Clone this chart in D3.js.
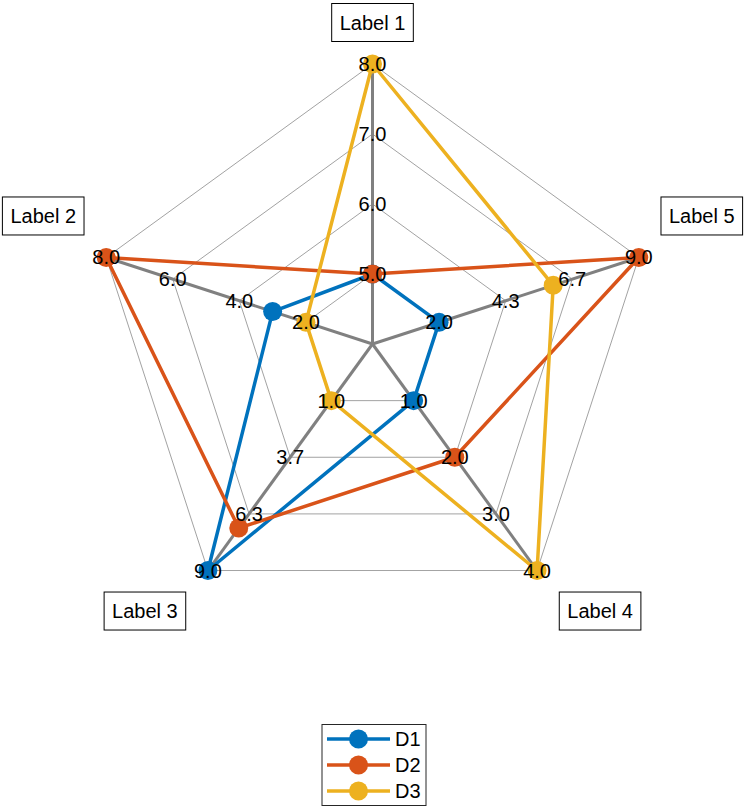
<!DOCTYPE html>
<html>
<head>
<meta charset="utf-8">
<script src="https://cdnjs.cloudflare.com/ajax/libs/d3/7.8.5/d3.min.js"></script>
<style>
  html, body { margin: 0; padding: 0; background: #fff; }
  svg { display: block; font-family: "Liberation Sans", Arial, Helvetica, sans-serif; }
</style>
</head>
<body>
<div id="chart"></div>
<script>
// axes (spokes), going counter-clockwise from the top
const axisLabels = ['Label 1', 'Label 2', 'Label 3', 'Label 4', 'Label 5'];
const axisMin = [5, 2, 1, 1, 2];
const axisMax = [8, 8, 9, 4, 9];

const seriesNames = ['D1', 'D2', 'D3'];
const seriesValues = [
  [5, 3, 9, 1, 2],
  [5, 8, 7, 2, 9],
  [8, 2, 1, 4, 6]
];
const colors = ['#0072BD', '#D95319', '#EDB120'];

const width = 746, height = 809;
const cx = 372.5, cy = 344, R = 280;
const nRings = 4;
const fontSize = 20;

const svg = d3.select('#chart').append('svg')
  .attr('width', width)
  .attr('height', height);

const angle = d3.scaleLinear()
  .domain([0, axisLabels.length])
  .range([Math.PI / 2, Math.PI / 2 + 2 * Math.PI]);

// one radial scale per axis; the min value sits on the first ring
const rScales = axisLabels.map((l, i) => d3.scaleLinear()
  .domain([axisMin[i], axisMax[i]])
  .range([R / nRings, R]));

const ringR = d3.scaleLinear().domain([0, nRings]).range([0, R]);

const pt = (i, r) => [cx + r * Math.cos(angle(i)), cy - r * Math.sin(angle(i))];

// rings
d3.range(1, nRings + 1).forEach(k => {
  const pts = axisLabels.map((l, i) => pt(i, ringR(k)));
  svg.append('path')
    .attr('d', d3.line()(pts) + 'Z')
    .attr('fill', 'none')
    .attr('stroke', '#8a8a8a')
    .attr('stroke-width', 0.8);
});

// spokes
axisLabels.forEach((l, i) => {
  const p = pt(i, R);
  svg.append('line')
    .attr('x1', cx).attr('y1', cy)
    .attr('x2', p[0]).attr('y2', p[1])
    .attr('stroke', '#808080')
    .attr('stroke-width', 3);
});

// data
seriesValues.forEach((vals, s) => {
  const pts = vals.map((v, i) => pt(i, rScales[i](v)));
  const g = svg.append('g');
  g.append('path')
    .attr('d', d3.line()(pts) + 'Z')
    .attr('fill', 'none')
    .attr('stroke', colors[s])
    .attr('stroke-width', 3.5)
    .attr('stroke-linejoin', 'round');
  g.selectAll('circle')
    .data(pts)
    .enter()
    .append('circle')
    .attr('cx', d => d[0])
    .attr('cy', d => d[1])
    .attr('r', 9.5)
    .attr('fill', colors[s]);
});

// tick labels on every ring vertex
axisLabels.forEach((l, i) => {
  const ticks = d3.range(nRings).map(k => axisMin[i] + k * (axisMax[i] - axisMin[i]) / (nRings - 1));
  ticks.forEach(t => {
    const p = pt(i, rScales[i](t));
    svg.append('text')
      .attr('x', p[0])
      .attr('y', p[1])
      .attr('text-anchor', 'middle')
      .attr('dominant-baseline', 'central')
      .attr('font-size', fontSize)
      .attr('fill', '#000')
      .text(t.toFixed(1));
  });
});

// axis labels in boxes
axisLabels.forEach((l, i) => {
  const p = pt(i, R);
  const c = Math.cos(angle(i)), s = Math.sin(angle(i));
  const dx = Math.abs(c) < 0.1 ? 0 : Math.sign(c) * 63;
  const dy = s > 0 ? -41.5 : 40.5;
  const g = svg.append('g').attr('transform', `translate(${p[0] + dx},${p[1] + dy})`);
  const rect = g.append('rect');
  const txt = g.append('text')
    .attr('text-anchor', 'middle')
    .attr('dominant-baseline', 'central')
    .attr('font-size', fontSize)
    .text(l);
  const bw = txt.node().getBBox().width + 16;
  const bh = 38;
  rect.attr('x', -bw / 2).attr('y', -bh / 2)
    .attr('width', bw).attr('height', bh)
    .attr('fill', '#fff')
    .attr('stroke', '#000')
    .attr('stroke-width', 1);
});

// legend
const legend = svg.append('g').attr('transform', 'translate(322,724.5)');
legend.append('rect')
  .attr('width', 104).attr('height', 81)
  .attr('fill', '#fff')
  .attr('stroke', '#262626')
  .attr('stroke-width', 1);
seriesNames.forEach((n, s) => {
  const y = 14.5 + s * 26;
  legend.append('line')
    .attr('x1', 5).attr('x2', 68)
    .attr('y1', y).attr('y2', y)
    .attr('stroke', colors[s])
    .attr('stroke-width', 3.5);
  legend.append('circle')
    .attr('cx', 36.5).attr('cy', y)
    .attr('r', 9.5)
    .attr('fill', colors[s]);
  legend.append('text')
    .attr('x', 73).attr('y', y)
    .attr('dominant-baseline', 'central')
    .attr('font-size', fontSize)
    .text(n);
});
</script>
</body>
</html>
